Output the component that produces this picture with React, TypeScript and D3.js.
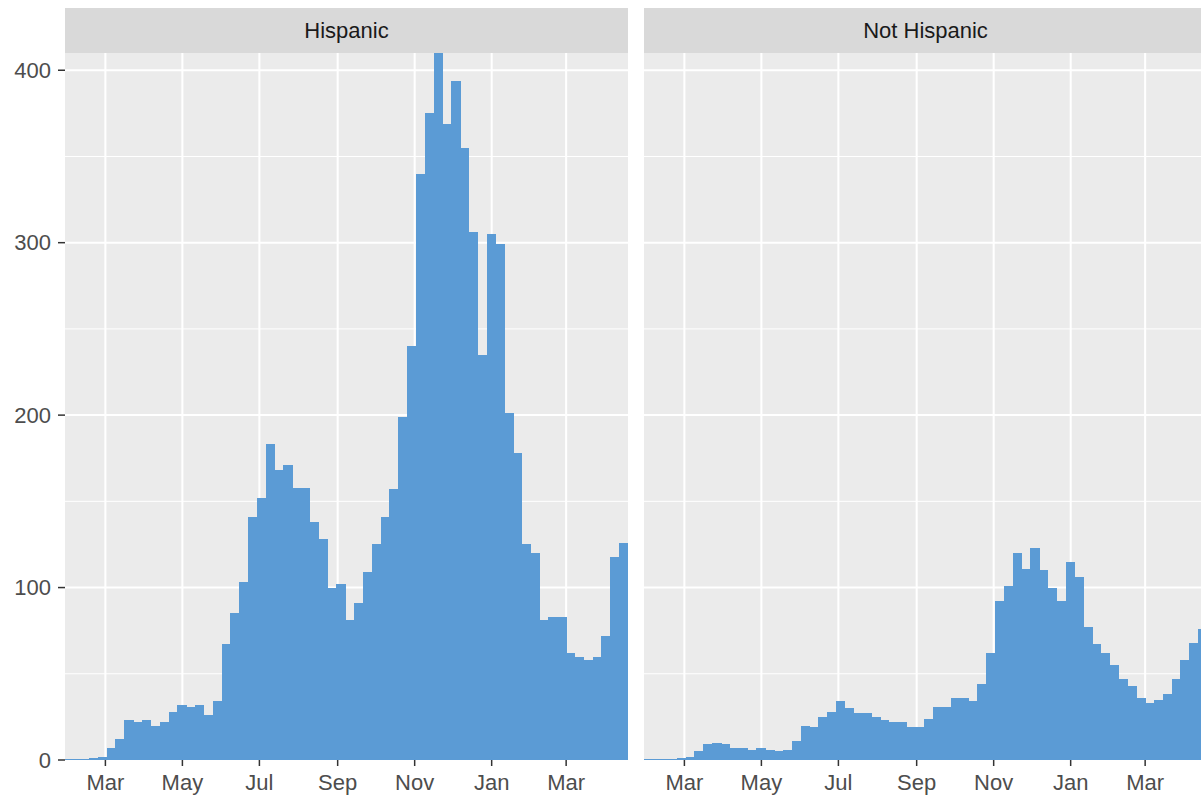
import * as d3 from "d3";
import React, { useEffect, useRef } from "react";

const facets = ["Hispanic", "Not Hispanic"];

const hispanic = [0.5, 0.5, 1, 2, 7, 12, 23, 22, 23, 20, 22, 28, 32, 31, 32, 26, 34, 67, 85, 103,
  141, 152, 183, 168, 171, 158, 158, 138, 128, 100, 102, 81, 91, 109, 125, 141, 157, 199, 240, 340,
  375, 410, 369, 394, 355, 306, 235, 305, 299, 201, 178, 125, 120, 81, 83, 83, 62, 60, 58, 60,
  72, 118, 126];

const notHispanic = [0.5, 0.5, 0.5, 1, 2, 5, 9, 10, 9, 7, 7, 6, 7, 6, 5, 6, 11, 20, 19, 25,
  28, 34, 30, 27, 27, 25, 23, 22, 22, 19, 19, 24, 31, 31, 36, 36, 34, 44, 62, 92,
  101, 120, 111, 123, 110, 100, 92, 115, 106, 77, 67, 62, 55, 47, 43, 36, 33, 35, 38, 47,
  58, 68, 76];

const yTicks = [0, 100, 200, 300, 400];
const xTickLabels = ["Mar", "May", "Jul", "Sep", "Nov", "Jan", "Mar"];

const App: React.FC = () => {
  const ref = useRef<SVGSVGElement>(null);
  useEffect(() => {
    const width = 1201, height = 797;
    const panelW = 563, gap = 16, left = 65;
    const top = 53, bottom = 760, stripTop = 8;
    const svg = d3.select(ref.current);
    svg.selectAll("*").remove();

    const start = new Date(2020, 0, 29);
    const end = new Date(2021, 3, 19);
    const barStart = new Date(2020, 1, 3);
    const y = d3.scaleLinear().domain([0, 410]).range([bottom, top]);
    const majorDates = d3.timeMonth.every(2)!.range(new Date(2020, 2, 1), end);
    const minorDates = d3.timeMonth.every(2)!.range(new Date(2020, 1, 1), end);
    const font = "Arial, 'Liberation Sans', sans-serif";

    [hispanic, notHispanic].forEach((vals, i) => {
      const x0 = left + i * (panelW + gap);
      const x = d3.scaleTime().domain([start, end]).range([x0, x0 + panelW]);
      const g = svg.append("g");
      g.append("rect").attr("x", x0).attr("y", top).attr("width", panelW)
        .attr("height", bottom - top).attr("fill", "#EBEBEB");
      // minor grid
      d3.range(50, 410, 100).forEach(v => {
        g.append("line").attr("x1", x0).attr("x2", x0 + panelW).attr("y1", y(v)).attr("y2", y(v))
          .attr("stroke", "#fff").attr("stroke-width", 1);
      });
      minorDates.forEach(d => {
        g.append("line").attr("x1", x(d)).attr("x2", x(d)).attr("y1", top).attr("y2", bottom)
          .attr("stroke", "#fff").attr("stroke-width", 1);
      });
      yTicks.forEach(v => {
        g.append("line").attr("x1", x0).attr("x2", x0 + panelW).attr("y1", y(v)).attr("y2", y(v))
          .attr("stroke", "#fff").attr("stroke-width", 2);
      });
      majorDates.forEach(d => {
        g.append("line").attr("x1", x(d)).attr("x2", x(d)).attr("y1", top).attr("y2", bottom)
          .attr("stroke", "#fff").attr("stroke-width", 2);
      });
      const bx = (k: number) => Math.max(x0, x(d3.timeDay.offset(barStart, k * 7)));
      g.selectAll("rect.bar").data(vals).join("rect").attr("class", "bar")
        .attr("x", (_, k) => (k === 0 ? x0 : bx(k)))
        .attr("width", (_, k) => Math.min(x0 + panelW, bx(k + 1) + 0.5) - (k === 0 ? x0 : bx(k)))
        .attr("y", d => y(d)).attr("height", d => y(0) - y(d))
        .attr("fill", "#5B9BD5").attr("shape-rendering", "crispEdges");
      // strip
      g.append("rect").attr("x", x0).attr("y", stripTop).attr("width", panelW)
        .attr("height", top - stripTop).attr("fill", "#D9D9D9");
      g.append("text").attr("x", x0 + panelW / 2).attr("y", (stripTop + top) / 2)
        .attr("dy", "0.35em").attr("text-anchor", "middle").attr("font-family", font)
        .attr("font-size", 22).attr("fill", "#1A1A1A").text(facets[i]);
      // x axis
      majorDates.forEach((d, k) => {
        g.append("line").attr("x1", x(d)).attr("x2", x(d)).attr("y1", bottom).attr("y2", bottom + 6)
          .attr("stroke", "#333").attr("stroke-width", 1.5);
        g.append("text").attr("x", x(d)).attr("y", bottom + 30).attr("text-anchor", "middle")
          .attr("font-family", font).attr("font-size", 22).attr("fill", "#4D4D4D")
          .text(xTickLabels[k]);
      });
    });

    yTicks.forEach(v => {
      svg.append("line").attr("x1", left - 7).attr("x2", left).attr("y1", y(v)).attr("y2", y(v))
        .attr("stroke", "#333").attr("stroke-width", 1.5);
      svg.append("text").attr("x", left - 14).attr("y", y(v)).attr("dy", "0.35em")
        .attr("text-anchor", "end").attr("font-family", font).attr("font-size", 22)
        .attr("fill", "#4D4D4D").text(v);
    });
    svg.attr("width", width).attr("height", height);
  }, []);

  return <svg ref={ref} style={{ position: "absolute", left: 0, top: 0, background: "#fff", overflow: "hidden" }} />;
};

export default App;
